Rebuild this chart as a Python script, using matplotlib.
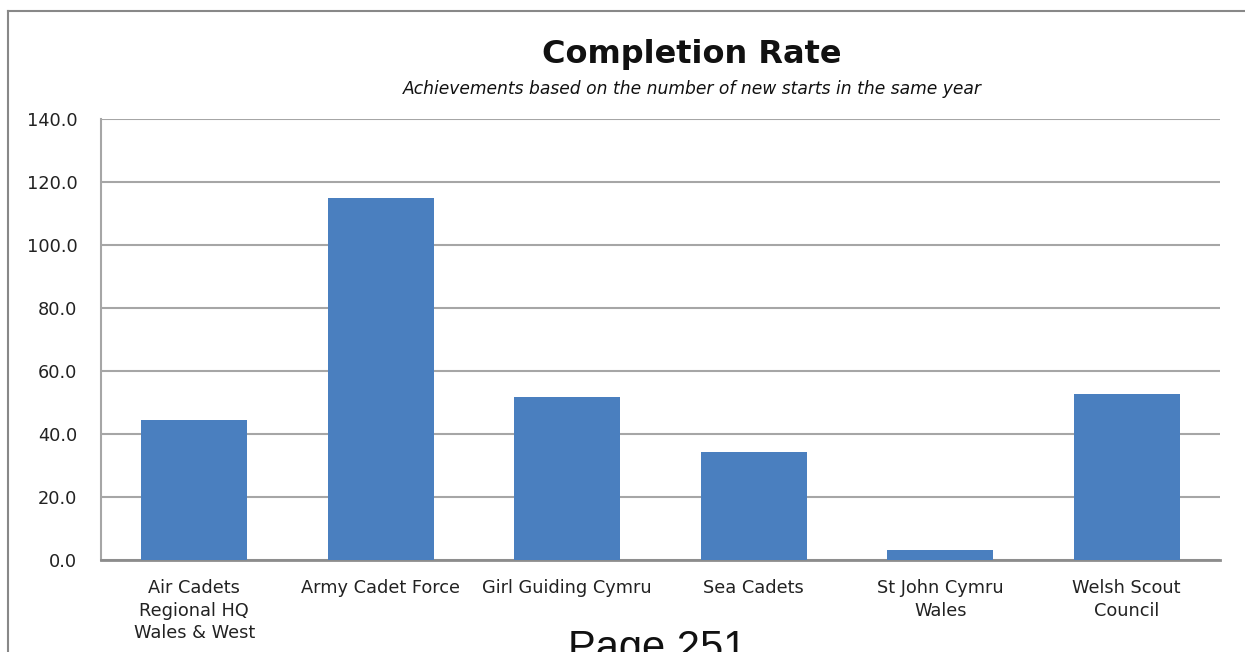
import matplotlib
matplotlib.use("Agg")
import matplotlib.pyplot as plt
from matplotlib.lines import Line2D

categories = ["Air Cadets\nRegional HQ\nWales & West", "Army Cadet Force", "Girl Guiding Cymru",
              "Sea Cadets", "St John Cymru\nWales", "Welsh Scout\nCouncil"]
values = [44.5, 115.0, 51.8, 34.4, 3.2, 52.8]
yticks = [0, 20, 40, 60, 80, 100, 120, 140]

W, H = 1245, 652
fig = plt.figure(figsize=(W / 100, H / 100), dpi=100)
ax = fig.add_axes([101 / W, 1 - 560 / H, (1220 - 101) / W, (560 - 119) / H])

x = range(len(categories))
ax.bar(x, values, width=0.57, color="#4a7fbf", zorder=3)
ax.set_xlim(-0.5, len(categories) - 0.5)
ax.set_ylim(0, 140)
ax.set_yticks(yticks)
ax.set_yticklabels([f"{v:.1f}" for v in yticks], fontsize=12.8, family="DejaVu Sans", color="#222222")
ax.set_xticks(list(x))
ax.set_xticklabels(categories, fontsize=12.8, family="DejaVu Sans", color="#222222", linespacing=1.3, va="top")
ax.tick_params(axis="both", length=0)
ax.tick_params(axis="y", pad=17)
ax.tick_params(axis="x", pad=14)
ax.grid(axis="y", color="#a6a6a6", linewidth=1.5, zorder=0)
for s in ["top", "right"]:
    ax.spines[s].set_visible(False)
ax.spines["left"].set_color("#a6a6a6")
ax.spines["left"].set_linewidth(1.5)
ax.spines["bottom"].set_color("#8c8c8c")
ax.spines["bottom"].set_linewidth(2)

fig.text(692 / W, 1 - 55 / H, "Completion Rate", ha="center", va="center",
         fontsize=23, fontweight="bold", family="DejaVu Sans", color="#111111")
fig.text(692 / W, 1 - 89 / H, "Achievements based on the number of new starts in the same year",
         ha="center", va="center", fontsize=12.3, style="italic", family="DejaVu Sans", color="#111111")

fig.text(657 / W, 1 - 660 / H, "Page 251", ha="center", va="baseline",
         fontsize=30, family="Liberation Sans", color="#111111")

fig.add_artist(Line2D([8 / W, 8 / W], [0, 1 - 11 / H], transform=fig.transFigure,
                      color="#888888", linewidth=1.5))
fig.add_artist(Line2D([8 / W, 1], [1 - 11 / H, 1 - 11 / H], transform=fig.transFigure,
                      color="#888888", linewidth=1.5))

fig.savefig("out.png", dpi=100)
